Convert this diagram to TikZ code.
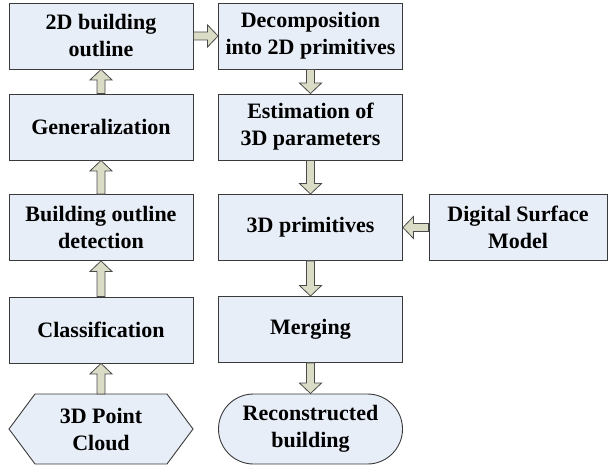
\documentclass[tikz,border=0pt]{standalone}
\usepackage{fontspec}
\setmainfont{Liberation Serif}
\usetikzlibrary{calc,shapes.misc,shapes.geometric}
\definecolor{boxfill}{HTML}{E8EEF7}
\definecolor{boxline}{HTML}{3A3A3A}
\definecolor{arrfill}{HTML}{DADCC6}
\definecolor{arrline}{HTML}{4A4A4A}
\tikzset{
  procbox/.style={draw=boxline, fill=boxfill, line width=0.9pt, minimum width=184pt, minimum height=66pt, inner sep=0pt, align=center, font=\fontsize{22}{27}\selectfont\bfseries},
  termbox/.style={procbox, rounded rectangle, minimum height=70pt},
  hexbox/.style={procbox, minimum height=70pt, draw=none, fill=none},
  blockarr/.style={draw=arrline, fill=arrfill, line width=0.8pt, line join=miter}
}
\newcommand\barrow[2]{%
  \coordinate (hb) at ($(#2)!10.5pt!(#1)$);
  \filldraw[blockarr] ($(#1)!4pt!90:(#2)$) -- ($(hb)!4pt!90:(#2)$) -- ($(hb)!11pt!90:(#2)$) -- (#2) -- ($(hb)!11pt!-90:(#2)$) -- ($(hb)!4pt!-90:(#2)$) -- ($(#1)!4pt!-90:(#2)$) -- cycle;
}
\begin{document}
\begin{tikzpicture}[x=1pt,y=-1pt]
\useasboundingbox (0,0) rectangle (608,468);
% left column
\node[procbox] (b1) at (101,36) {2D building\\outline};
\node[procbox] (gen) at (101,127) {Generalization};
\node[procbox] (bod) at (101,227.5) {Building outline\\detection};
\node[procbox] (cls) at (101,330) {Classification};
\filldraw[draw=boxline, fill=boxfill, line width=0.9pt] (35,394) -- (167,394) -- (193,429) -- (167,464) -- (35,464) -- (9,429) -- cycle;
\node[hexbox] (pc) at (101,429) {3D Point\\Cloud};
% right column
\node[procbox] (dec) at (310.5,36) {Decomposition\\into 2D primitives};
\node[procbox] (est) at (310.5,127) {Estimation of\\3D parameters};
\node[procbox] (prim) at (310.5,227.5) {3D primitives};
\node[procbox] (mrg) at (310.5,329.5) {Merging};
\node[termbox] (rec) at (310.5,429) {Reconstructed\\building};
\node[procbox, minimum width=178pt] (dsm) at (518,227.5) {Digital Surface\\Model};
% arrows
\coordinate (pctop) at (101,394);
\barrow{pctop}{cls.south}
\barrow{cls.north}{bod.south}
\barrow{bod.north}{gen.south}
\barrow{gen.north}{b1.south}
\barrow{b1.east}{dec.west}
\barrow{dec.south}{est.north}
\barrow{est.south}{prim.north}
\barrow{dsm.west}{prim.east}
\barrow{prim.south}{mrg.north}
\barrow{mrg.south}{rec.north}
\end{tikzpicture}
\end{document}
